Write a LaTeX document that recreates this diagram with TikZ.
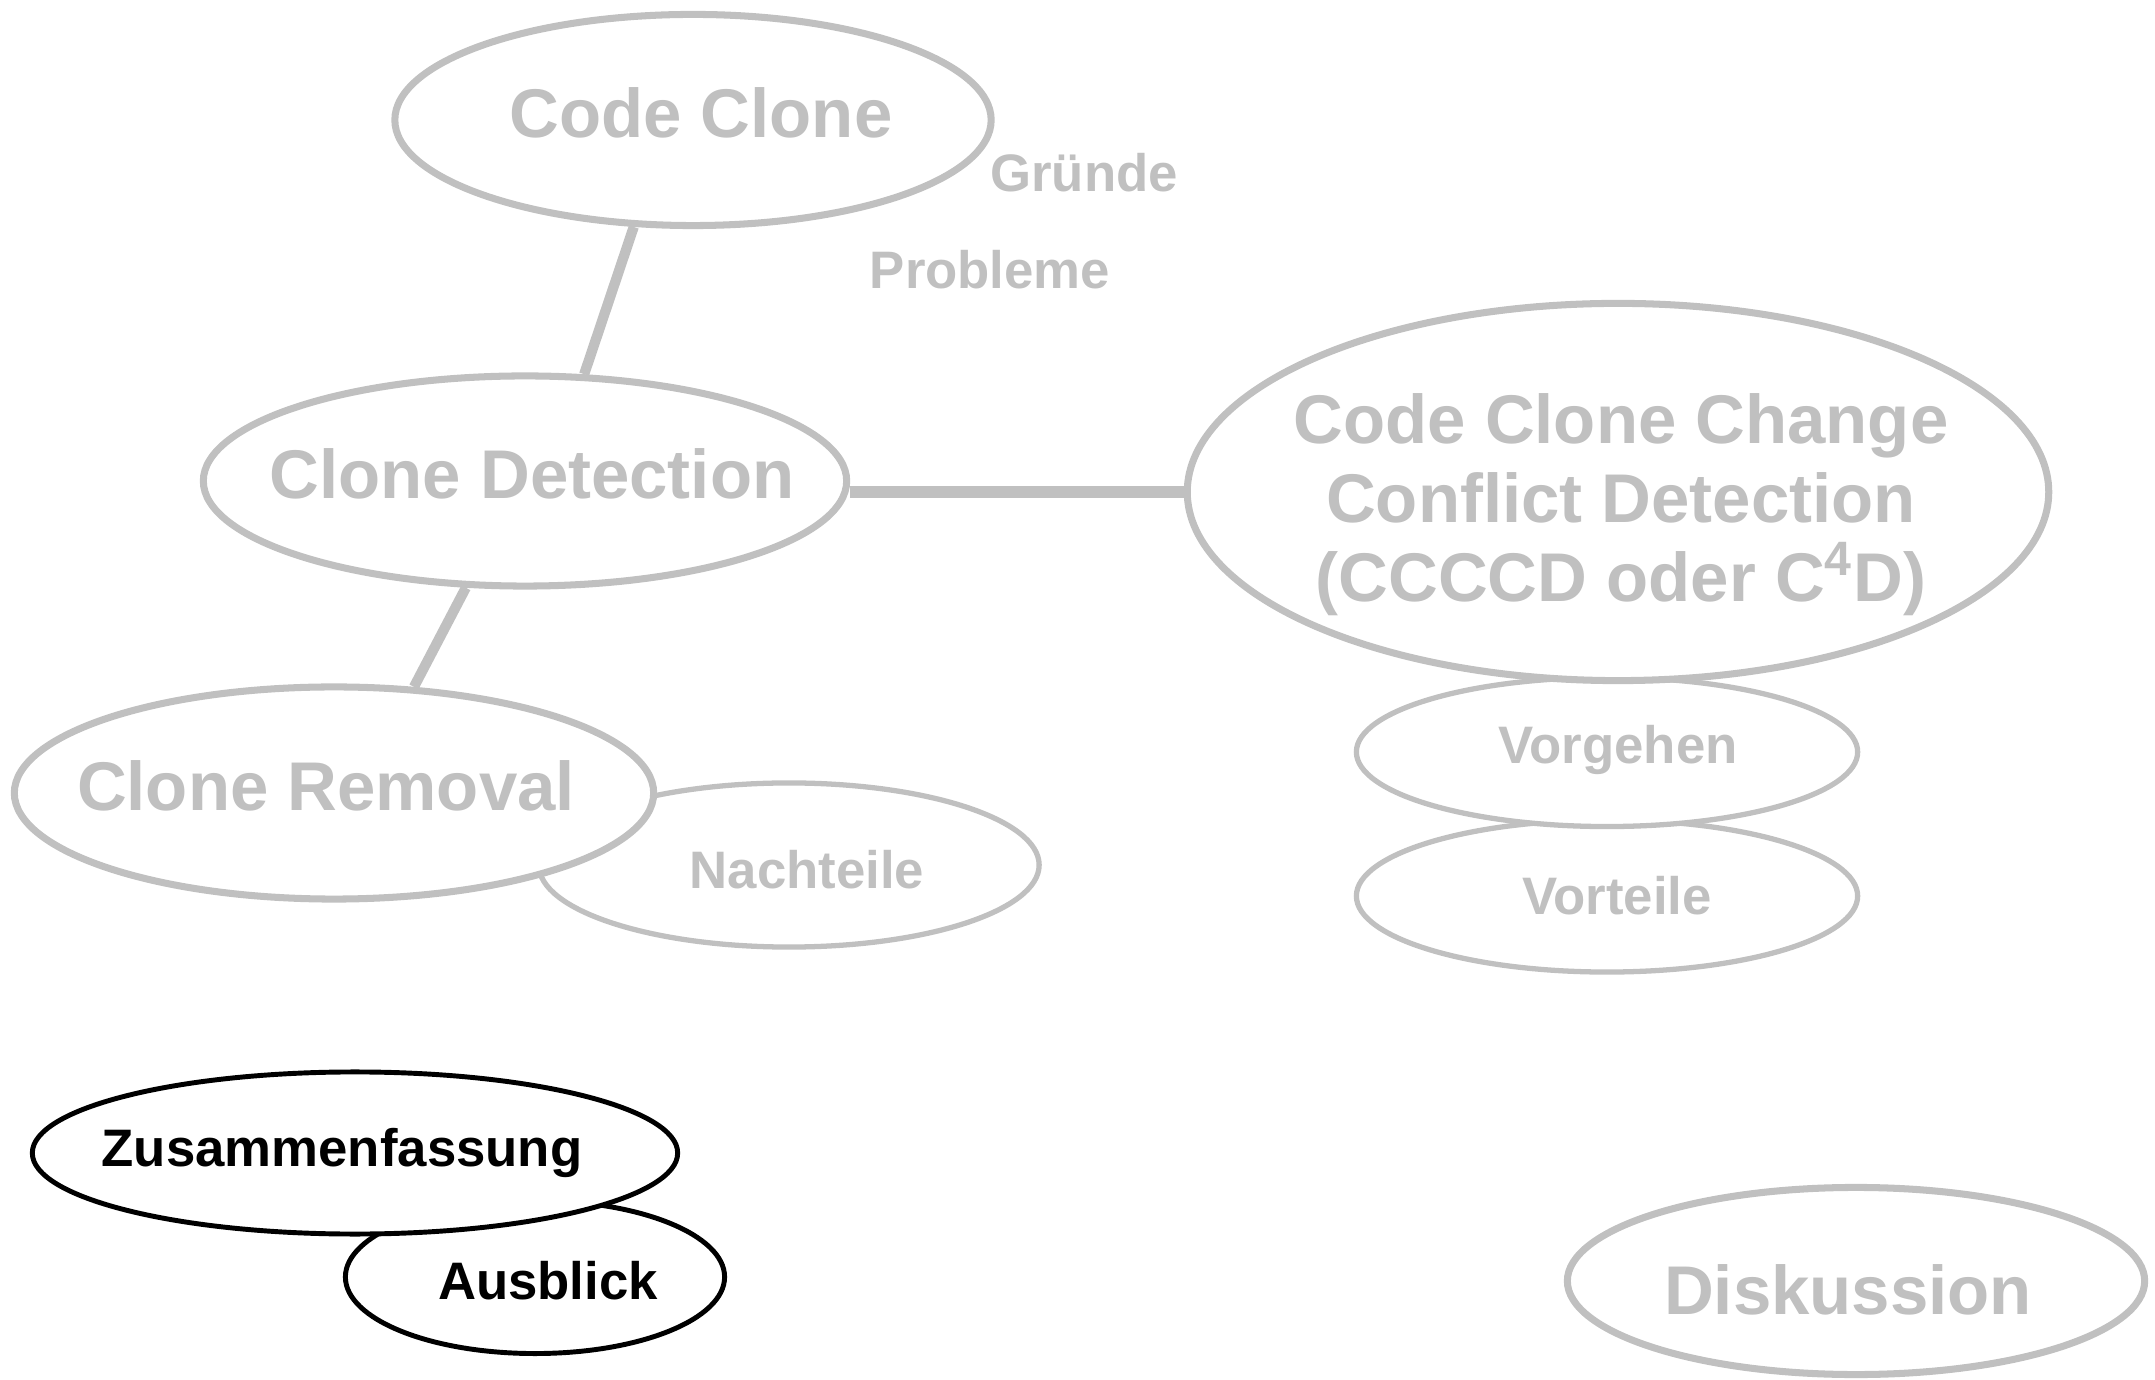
\documentclass[tikz,border=0pt]{standalone}
\usepackage{fontspec}
\setmainfont{Liberation Sans}
\usetikzlibrary{shapes.geometric}
\definecolor{topicgray}{RGB}{192,192,192}
\tikzset{
topic/.style 2 args={ellipse, draw=topicgray, fill=white, line width=2pt,
	minimum width=#1, minimum height=#2, inner sep=0pt},
subtopic/.style 2 args={ellipse, draw=topicgray, fill=white, line width=1.5pt,
	minimum width=#1, minimum height=#2, inner sep=0pt},
current/.style 2 args={ellipse, draw=black, fill=white, line width=1.4pt,
	minimum width=#1, minimum height=#2, inner sep=0pt},
bigtext/.style={font=\fontsize{19.6}{22.5}\selectfont\bfseries, text=topicgray, inner sep=0pt},
smalltext/.style={font=\fontsize{15}{18}\selectfont\bfseries, text=topicgray, inner sep=0pt},
nowtext/.style={font=\fontsize{15}{18}\selectfont\bfseries, text=black, inner sep=0pt},
link/.style={draw=topicgray, line width=2.9pt},
thicklink/.style={draw=topicgray, line width=3.5pt},
}

\begin{document}
\begin{tikzpicture}[x=0.01cm, y=-0.01cm]
\useasboundingbox (0,0) rectangle (2155,1380);
%Place the nodes
\node[topic={5.96cm}{2.11cm}, label={[bigtext, shift={(8,-7)}]center:Code Clone}] (cc) at (693,120) {};
\node[smalltext] (gruende) at (1084,173) {Gründe};
\node[smalltext] (probleme) at (990,270) {Probleme};

\node[topic={6.43cm}{2.10cm}, label={[bigtext, shift={(7,-7)}]center:Clone Detection}] (cd) at (525,481) {};

\node[subtopic={5.01cm}{1.52cm}, label={[smalltext, shift={(10,0)}]center:Vorteile}] (vt) at (1607,896) {};
\node[subtopic={5.01cm}{1.49cm}, label={[smalltext, shift={(11,-2)}]center:Vorgehen}] (vg) at (1607,752) {};
\node[topic={8.61cm}{3.77cm}, label={[bigtext, align=center, shift={(3,13)}]center:{Code Clone Change\\Conflict Detection\\(CCCCD oder C\textsuperscript{4}D)}}] (ccd) at (1618,492) {};

\node[subtopic={5.00cm}{1.64cm}, label={[smalltext, shift={(18,5)}]center:Nachteile}] (nt) at (789,865) {};
\node[topic={6.39cm}{2.12cm}, label={[bigtext, shift={(-8,-7)}]center:Clone Removal}] (cr) at (334,793) {};

\node[current={3.79cm}{1.53cm}, label={[nowtext, shift={(13,4)}]center:Ausblick}] (ab) at (535,1277) {};
\node[current={6.45cm}{1.62cm}, label={[nowtext, shift={(-13,0)}]center:Zusammenfassung}] (zf) at (355,1153) {};

\node[topic={5.77cm}{1.87cm}, label={[bigtext, shift={(-8,9)}]center:Diskussion}] (dk) at (1856,1281) {};

%
\draw[link] (cc.241) -- (cd.61);
\draw[link] (cd.241) -- (cr.53);
\draw[thicklink] (ccd.west -| cd.east) -- (ccd.west);

\end{tikzpicture}
\end{document}
